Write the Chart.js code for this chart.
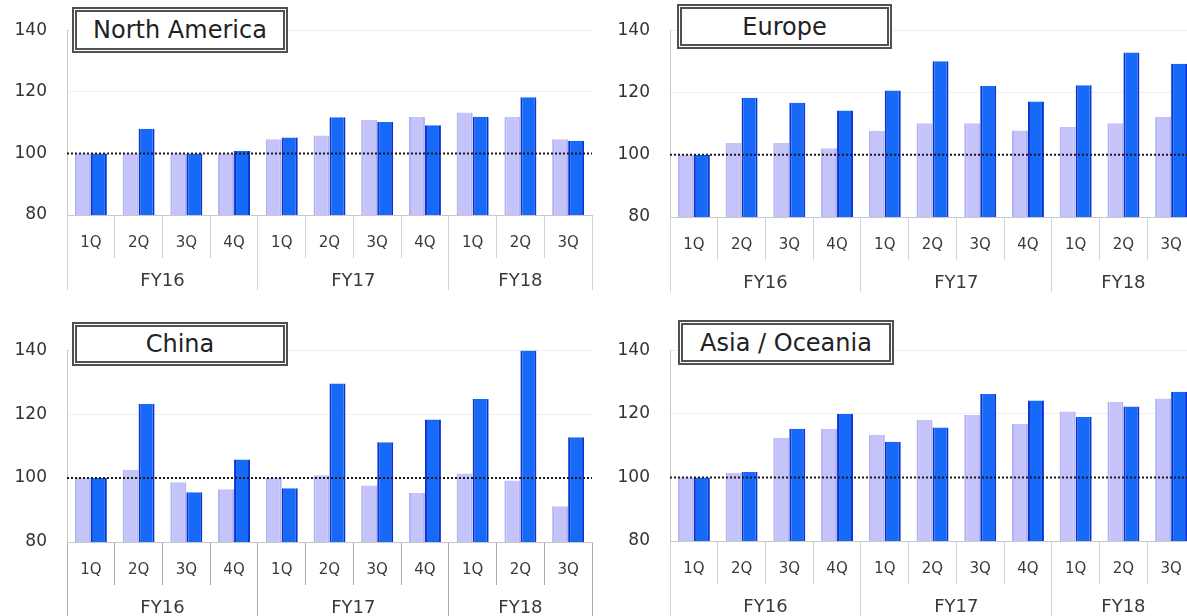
<!DOCTYPE html>
<html>
<head>
<meta charset="utf-8">
<script src="https://cdn.jsdelivr.net/npm/chart.js@4.4.1/dist/chart.umd.min.js"></script>
<style>
html,body{margin:0;padding:0;background:#fff;overflow:hidden;width:1187px;height:616px;position:relative;}
.panel{position:absolute;width:600px;height:300px;}
.title{position:absolute;box-sizing:border-box;border:5px double #505050;background:#fff;
  font-family:"DejaVu Sans",Verdana,sans-serif;font-size:24px;color:#222;
  display:flex;align-items:center;justify-content:center;white-space:nowrap;z-index:2;}
</style>
</head>
<body>
<div class="panel" id="p0" style="left:0;top:0"><canvas id="c0"></canvas></div>
<div class="panel" id="p1" style="left:603px;top:0"><canvas id="c1"></canvas></div>
<div class="panel" id="p2" style="left:0;top:320px"><canvas id="c2"></canvas></div>
<div class="panel" id="p3" style="left:603px;top:320px"><canvas id="c3"></canvas></div>
<div class="title" id="t0" style="left:72px;top:7px;width:216px;height:46px"></div>
<div class="title" id="t1" style="left:677px;top:4px;width:215px;height:45px"></div>
<div class="title" id="t2" style="left:72px;top:322px;width:216px;height:44px"></div>
<div class="title" id="t3" style="left:678px;top:320px;width:216px;height:45px"></div>
<script>
// ---- data ----
const quarters = ['1Q','2Q','3Q','4Q','1Q','2Q','3Q','4Q','1Q','2Q','3Q'];
const years = ['FY16','FY17','FY18'];
const yearQuarterCounts = [4,4,3];
const yTicks = [80,100,120,140];
const refValue = 100;
const regions = ['North America','Europe','China','Asia / Oceania'];

const naLight = [100,100,100,100,104.6,105.8,110.9,111.8,113.3,111.9,104.6];
const naBlue  = [100,108,100,100.8,105.2,111.7,110.2,109.1,111.9,118.2,104.1];
const euLight = [100,103.8,103.8,102.1,107.7,110.1,110.1,107.8,108.9,110.1,112.1];
const euBlue  = [100,118.3,116.7,114.2,120.6,130.0,122.1,117.1,122.3,132.8,129.2];
const cnLight = [100,102.6,98.7,96.5,100,100.9,97.7,95.3,101.4,99.2,91.2];
const cnBlue  = [100,123.2,95.6,105.8,96.8,129.6,111.2,118.3,124.7,139.9,112.8];
const aoLight = [100,101.5,112.5,115.2,113.4,118.1,119.6,116.8,120.7,123.7,124.8];
const aoBlue  = [100,101.7,115.3,119.9,111.2,115.7,126.2,124.2,119.0,122.3,126.9];

const seriesLight = [naLight, euLight, cnLight, aoLight];
const seriesBlue  = [naBlue, euBlue, cnBlue, aoBlue];

// ---- layout / style (per panel) ----
const panelLayout = [
  {padTop:19, plotBottom:215, sep:'#d4d4d4'},
  {padTop:19, plotBottom:217, sep:'#d4d4d4'},
  {padTop:19, plotBottom:222, sep:'#a8a8a8'},
  {padTop:15, plotBottom:221, sep:'#d4d4d4'}
];
const PANEL_H = 300, Q_ROW = 43, Y_ROW = 32;

// year group tick positions derived from counts
const yearTicks = [];
(function(){
  let s = 0;
  yearTicks.push({value:-0.5, label:''});
  yearQuarterCounts.forEach((n,i)=>{
    yearTicks.push({value:s + (n-1)/2, label:years[i]});
    s += n;
    yearTicks.push({value:s - 0.5, label:''});
  });
})();

const refLine = {
  id:'refLine',
  afterDatasetsDraw(chart, args, opts){
    const y = chart.scales.y.getPixelForValue(opts.value);
    const a = chart.chartArea, ctx = chart.ctx;
    ctx.save();
    ctx.strokeStyle = opts.color; ctx.lineWidth = 2; ctx.setLineDash([2,2]);
    ctx.beginPath(); ctx.moveTo(a.left, y); ctx.lineTo(a.right, y); ctx.stroke();
    ctx.restore();
  }
};

const FONT = '"DejaVu Sans", Verdana, sans-serif';

function yearGridColor(c, sep){
  if (!c || !c.tick) return 'rgba(0,0,0,0)';
  const t = yearTicks.find(q=>Math.abs(q.value - c.tick.value) < 1e-6);
  return t && t.label === '' ? sep : 'rgba(0,0,0,0)';
}

function makeChart(i){
  document.getElementById('t'+i).textContent = regions[i];
  const L = panelLayout[i];
  const padBottom = PANEL_H - L.plotBottom - Q_ROW - Y_ROW;
  new Chart(document.getElementById('c'+i), {
    type:'bar',
    data:{
      labels: quarters,
      datasets:[
        {data: seriesLight[i], xAxisID:'x', yAxisID:'y', backgroundColor:'#c4c4fb', borderColor:'#b2b2f2',
         borderWidth:{left:2,right:2,top:0,bottom:0}, borderSkipped:false,
         categoryPercentage:0.67, barPercentage:1.0},
        {data: seriesBlue[i], xAxisID:'x', yAxisID:'y', backgroundColor:'#1769f7', borderColor:'#0b33d2',
         borderWidth:{left:2,right:2,top:0,bottom:0}, borderSkipped:false,
         categoryPercentage:0.67, barPercentage:1.0}
      ]
    },
    options:{
      responsive:true, maintainAspectRatio:false, animation:false,
      layout:{padding:{top:L.padTop, right:8, bottom:padBottom, left:0}},
      plugins:{legend:{display:false}, tooltip:{enabled:false}, refLine:{value:refValue, color:'#1a1a1a'}},
      scales:{
        x:{
          type:'category', position:'bottom', weight:0,
          grid:{offset:true, drawOnChartArea:false, drawTicks:true, tickLength:Q_ROW, color:L.sep, lineWidth:1},
          border:{display:true, color:'#c8c8c8'},
          ticks:{font:{family:FONT, size:15}, color:'#3a3a3a', padding:-24, maxRotation:0, autoSkip:false},
          afterFit(s){ s.height = Q_ROW; }
        },
        yr:{
          type:'linear', position:'bottom', axis:'x', weight:1, min:-0.5, max:10.5,
          offset:false, bounds:'data',
          afterBuildTicks(s){ s.ticks = yearTicks.map(t=>({value:t.value})); },
          grid:{offset:false, drawOnChartArea:false, drawTicks:true, tickLength:Y_ROW,
            color:(c)=>yearGridColor(c, L.sep)},
          border:{display:false},
          ticks:{font:{family:FONT, size:18}, color:'#3a3a3a', padding:-19, maxRotation:0, autoSkip:false,
            callback:(v)=>{ const t = yearTicks.find(q=>Math.abs(q.value - v) < 1e-6); return t ? t.label : ''; }},
          afterFit(s){ s.height = Y_ROW; }
        },
        y:{
          min:yTicks[0], max:yTicks[yTicks.length-1],
          afterBuildTicks(s){ s.ticks = yTicks.map(v=>({value:v})); },
          grid:{drawTicks:false, color:(c)=> (c && c.tick && (c.tick.value===120 || c.tick.value===140)) ? '#efefef' : 'rgba(0,0,0,0)'},
          border:{display:true, color:'#c8c8c8'},
          ticks:{font:{family:FONT, size:17}, color:'#333', padding:20},
          afterFit(s){ s.width = 67; }
        }
      }
    },
    plugins:[refLine]
  });
}
for (let i=0;i<4;i++) makeChart(i);
</script>
</body>
</html>
